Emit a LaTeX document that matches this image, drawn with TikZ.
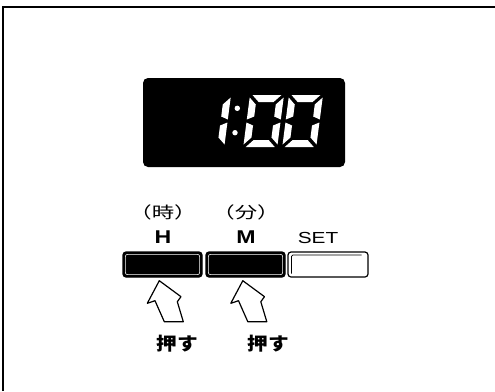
\documentclass[tikz,border=0pt]{standalone}
\usepackage{graphicx}
\usepackage{fontspec}
\setmainfont{Liberation Sans}
\newfontfamily\cjk{Noto Sans CJK JP}
\usetikzlibrary{positioning}

% seven segments of one digit (local coordinates, y runs down)
\newcommand{\sega}{\fill[segment] (2.5,0) -- (31.5,0) -- (24.5,7) -- (9.5,7) -- cycle;}
\newcommand{\segb}{\fill[segment] (34,2.5) -- (27,9.5) -- (27,21.5) -- (34,24.5) -- cycle;}
\newcommand{\segc}{\fill[segment] (34,27.5) -- (27,30.5) -- (27,42.5) -- (34,49.5) -- cycle;}
\newcommand{\segd}{\fill[segment] (2.5,52) -- (31.5,52) -- (24.5,45) -- (9.5,45) -- cycle;}
\newcommand{\sege}{\fill[segment] (0,27.5) -- (7,30.5) -- (7,42.5) -- (0,49.5) -- cycle;}
\newcommand{\segf}{\fill[segment] (0,2.5) -- (7,9.5) -- (7,21.5) -- (0,24.5) -- cycle;}
% printed letters are a little wider than the font
\newcommand{\widetext}[2]{\scalebox{#1}[1]{#2}}

\begin{document}
\begin{tikzpicture}[x=1pt, y=-1pt,
    segment/.style={fill=white},
    key/.style={draw=black, line width=1.2pt, rounded corners=3pt,
      minimum width=79pt, minimum height=25pt, inner sep=0pt},
    keyname/.style={font=\fontsize{18.5}{18.5}\selectfont\bfseries, inner sep=0pt},
    unitname/.style={font=\cjk\fontsize{16}{16}\selectfont, inner sep=0pt},
    push/.style={font=\cjk\fontsize{18}{18}\selectfont\bfseries, inner sep=0pt},
    pusharrow/.style={draw=black, line width=1.2pt, fill=white, line join=round}]
  \useasboundingbox (0,0) rectangle (495,391);

  % frame: only top and left edges are shown
  \draw[line width=2pt] (3,391) -- (3,7) -- (495,7);

  % display window
  \node[fill=black, rounded corners=5pt, minimum width=202pt,
    minimum height=89pt, inner sep=0pt] (display) at (244,122.5) {};

  % digits 1, 0, 0
  \foreach \dx/\segs in {197/{b,c}, 250/{a,b,c,d,e,f}, 289/{a,b,c,d,e,f}} {
    \begin{scope}[shift={(\dx,95)}, xslant=0.13]
      \foreach \s in \segs {\csname seg\s\endcsname}
    \end{scope}
  }
  % colon
  \fill[white] (237.3,108.3) circle (2.7) (235,132.7) circle (2.7);

  % keys
  \node[key, fill=black] (hkey) at (162.5,264.5) {};
  \node[key, fill=black] (mkey) at (245.5,264.5) {};
  \node[key, fill=white, minimum width=80pt] (setkey) at (328,264.5) {};
  \foreach \k in {hkey, mkey}
    \draw[white, line width=0.6pt, rounded corners=2pt]
      ([shift={(3,3)}]\k.north west) rectangle ([shift={(-3,-3)}]\k.south east);
  \draw[line width=0.7pt, rounded corners=1.5pt]
    ([shift={(4,-4)}]setkey.south west) -- ([shift={(4,3.5)}]setkey.north west)
    -- ([shift={(-7,3.5)}]setkey.north east);

  % key labels
  \node[unitname] (hunit) at (163,212) {\widetext{1.4}{（時）}};
  \node[keyname] (hname) at (163,237) {\widetext{1.25}{H}};
  \node[unitname] (munit) at (246,212) {\widetext{1.4}{（分）}};
  \node[keyname] (mname) at (246,237) {\widetext{1.25}{M}};
  \node[keyname, font=\fontsize{16}{16}\selectfont] (setname) at (318,238)
    {\widetext{1.3}{SET}};

  % push arrows with their labels
  \foreach \dx/\tx/\nm in {0/177.5/hpush, 83.5/268/mpush} {
    \draw[pusharrow, shift={(\dx,0)}] (159.3,280.7) -- (181,296.7) -- (177.3,301.7)
      -- (183.3,321.7) -- (164.3,321.7) -- (155,300.7) -- (147.3,303.3) -- cycle;
    \node[push] (\nm) at (\tx,344) {\widetext{1.15}{押す}};
  }
\end{tikzpicture}
\end{document}
